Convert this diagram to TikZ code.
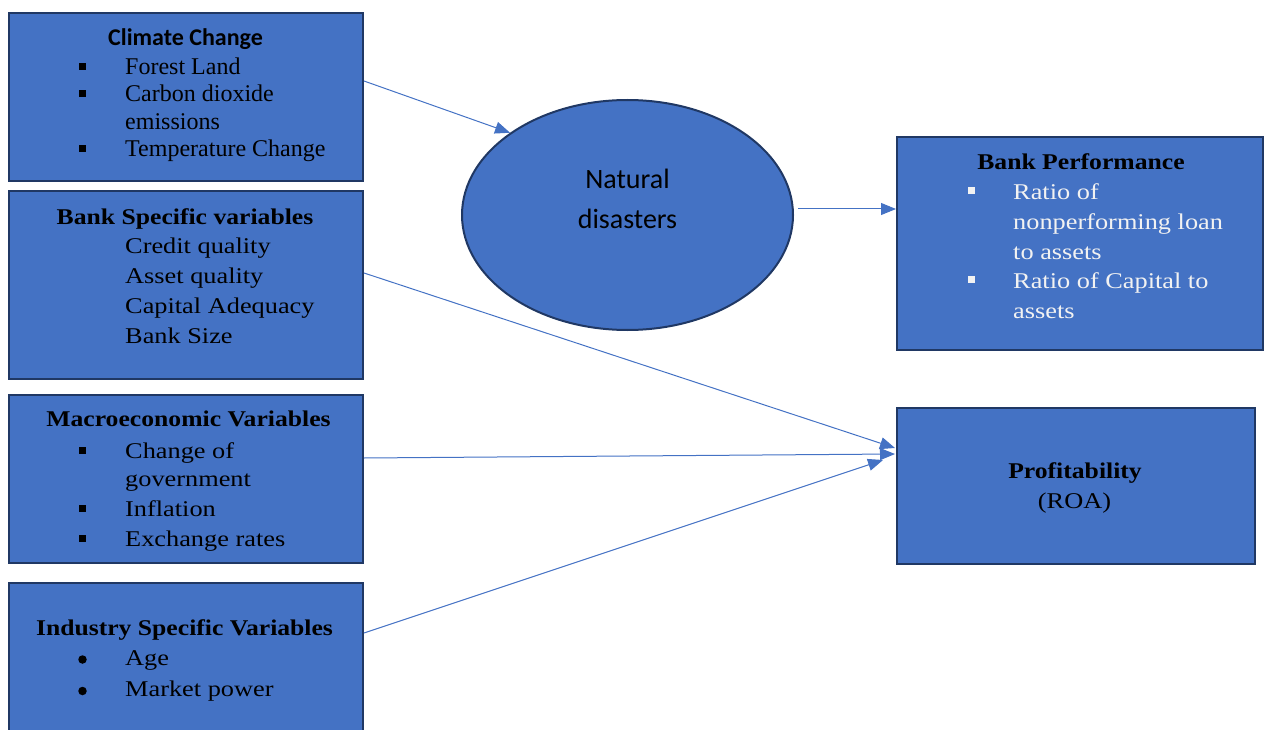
\documentclass[tikz,border=0pt]{standalone}
\usepackage{fontspec}
\setmainfont{Liberation Serif}
\newfontfamily\palr{Liberation Serif}[FakeStretch=1.17]
\newfontfamily\palb{Liberation Serif}[FakeStretch=1.14]
\newfontfamily\cali{Carlito}
\usetikzlibrary{arrows.meta,shapes.geometric}
\definecolor{boxfill}{HTML}{4472C4}
\definecolor{boxline}{HTML}{203864}
\definecolor{arrowc}{HTML}{4472C4}
\definecolor{lighttext}{HTML}{F2F2F2}
\begin{document}
\begin{tikzpicture}[x=1pt,y=-1pt,
  box/.style={draw=boxline, line width=2pt, fill=boxfill, anchor=north west, inner sep=0pt},
  item/.style={anchor=base west, inner sep=0pt, font=\palr\fontsize{22.5}{27}\selectfont},
  titem/.style={anchor=base west, inner sep=0pt, font=\fontsize{24}{28}\selectfont},
  head/.style={anchor=base, inner sep=0pt, font=\palb\bfseries\fontsize{22.5}{27}\selectfont},
  sq/.style={rectangle, fill=black, minimum size=7pt, inner sep=0pt},
  wsq/.style={rectangle, fill=lighttext, minimum size=7pt, inner sep=0pt},
  dot/.style={circle, fill=black, minimum size=8.5pt, inner sep=0pt},
  arr/.style={draw=arrowc, line width=1pt, -{Triangle[length=15pt,width=12pt]}}]
\useasboundingbox (0,0) rectangle (1264,730);
\clip (0,0) rectangle (1264,730);

% boxes
\node[box, minimum width=354pt, minimum height=168pt] (cc) at (8,12) {};
\node[box, minimum width=354pt, minimum height=188pt] (bs) at (8,190) {};
\node[box, minimum width=354pt, minimum height=168pt] (me) at (8,394) {};
\node[box, minimum width=354pt, minimum height=163pt] (is) at (8,582) {};
\node[box, minimum width=366pt, minimum height=213pt] (bp) at (896,136) {};
\node[box, minimum width=358pt, minimum height=156pt] (pr) at (896,407) {};
\node[ellipse, draw=boxline, line width=2pt, fill=boxfill, inner sep=0pt,
      minimum width=331pt, minimum height=230pt] (nd) at (627.5,215) {};

% Climate Change
\node[head, font=\cali\bfseries\fontsize{24}{28}\selectfont] (cch) at (185.5,46) {Climate Change};
\node[sq] (ccb1) at (82.5,67) {};
\node[sq] (ccb2) at (82.5,94) {};
\node[sq] (ccb3) at (82.5,149) {};
\node[titem] (cc1) at (125,75) {Forest Land};
\node[titem] (cc2) at (125,101.7) {Carbon dioxide};
\node[titem] (cc3) at (125,129.3) {emissions};
\node[titem] (cc4) at (125,157) {Temperature Change};

% Bank specific
\node[head] (bsh) at (185,225) {Bank Specific variables};
\node[item] (bs1) at (125,253.3) {Credit quality};
\node[item] (bs2) at (125,283.3) {Asset quality};
\node[item] (bs3) at (125,313.3) {Capital Adequacy};
\node[item] (bs4) at (125,343.3) {Bank Size};

% Macroeconomic
\node[head] (meh) at (188.5,426.7) {Macroeconomic Variables};
\node[sq] (meb1) at (82.5,450) {};
\node[sq] (meb2) at (82.5,508.7) {};
\node[sq] (meb3) at (82.5,538.7) {};
\node[item] (me1) at (125,458.3) {Change of};
\node[item] (me2) at (125,486.7) {government};
\node[item] (me3) at (125,516.7) {Inflation};
\node[item] (me4) at (125,546.7) {Exchange rates};

% Industry
\node[head] (ish) at (184.5,635) {Industry Specific Variables};
\node[dot] (isb1) at (82.5,659.5) {};
\node[dot] (isb2) at (82.5,691) {};
\node[item] (is1) at (125,665) {Age};
\node[item] (is2) at (125,696.7) {Market power};

% Bank performance
\node[head] (bph) at (1081,169.3) {Bank Performance};
\node[wsq] (bpb1) at (971,191) {};
\node[wsq] (bpb2) at (971,279.5) {};
\node[item, text=lighttext] (bp1) at (1013,200) {Ratio of};
\node[item, text=lighttext] (bp2) at (1013,230) {nonperforming loan};
\node[item, text=lighttext] (bp3) at (1013,259.3) {to assets};
\node[item, text=lighttext] (bp4) at (1013,288.3) {Ratio of Capital to};
\node[item, text=lighttext] (bp5) at (1013,318.3) {assets};

% Profitability
\node[head] (prh) at (1075,478) {Profitability};
\node[item, anchor=base] (pr1) at (1074.5,508) {(ROA)};

% Natural disasters
\node[anchor=base, inner sep=0pt, font=\cali\fontsize{28}{34}\selectfont] (nd1) at (627.5,188.3) {Natural};
\node[anchor=base, inner sep=0pt, font=\cali\fontsize{28}{34}\selectfont] (nd2) at (627.5,228.3) {disasters};

% connectors
\coordinate (ndo) at ([xshift=4pt,yshift=6pt]nd.east);
\draw[arr] ([yshift=16pt]cc.east) -- (nd.145);
\draw[arr] (ndo) -- (ndo -| bp.west);
\draw[arr] ([yshift=12pt]bs.east) -- ([xshift=-1pt,yshift=38pt]pr.west);
\draw[arr] ([yshift=21pt]me.east) -- ([xshift=-1pt,yshift=32pt]pr.west);
\draw[arr] ([yshift=31.5pt]is.east) -- ([xshift=-13pt,yshift=26pt]pr.west);
\end{tikzpicture}
\end{document}
